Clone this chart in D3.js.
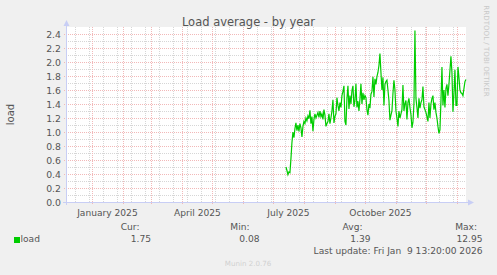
<!DOCTYPE html>
<html><head><meta charset="utf-8">
<script src="https://cdn.jsdelivr.net/npm/d3@7/dist/d3.min.js"></script>
<style>
html,body{margin:0;padding:0;background:#f0f0f0;}
svg{display:block;font-family:"DejaVu Sans",sans-serif;}
</style></head><body>
<script>
// ---- data ----
const title = "Load average - by year";
const yLabel = "load";
const yTicks = [0.0,0.2,0.4,0.6,0.8,1.0,1.2,1.4,1.6,1.8,2.0,2.2,2.4];
const xLabels = ["January 2025","April 2025","July 2025","October 2025"];
const xLabelMonths = ["2025-01-01","2025-04-01","2025-07-01","2025-10-01"];
const seriesName = "load";
const seriesStart = "2025-07-13T12:00:00Z"; // one value per day
const loadValues = [
0.50,0.45,0.39,0.43,0.42,0.62,0.85,1.00,0.92,1.05,
1.13,1.02,1.10,1.01,1.12,1.06,0.93,1.08,1.15,1.12,
1.20,1.16,1.23,1.19,1.31,1.12,1.22,1.01,1.18,1.26,
1.20,1.24,1.28,1.21,1.30,1.22,1.26,1.18,1.32,1.24,
1.08,1.12,1.15,1.26,1.12,1.20,1.30,1.46,1.13,1.22,
1.26,1.49,1.38,1.30,1.42,1.35,1.52,1.58,1.66,1.15,
1.10,1.48,1.66,1.33,1.52,1.40,1.59,1.66,1.36,1.45,
1.69,1.35,1.44,1.30,1.47,1.69,1.40,1.56,1.46,1.52,
1.49,1.32,1.24,1.40,1.34,1.54,1.58,1.79,1.50,1.76,
1.68,1.79,1.85,1.95,2.12,1.85,1.60,1.78,1.38,1.68,
1.72,1.74,1.60,1.45,1.17,1.24,1.30,1.55,1.74,1.60,
1.30,1.20,1.08,1.30,1.20,1.26,1.32,1.67,1.30,1.40,
1.45,1.18,1.42,1.48,1.35,1.25,1.06,1.14,1.40,2.45,
1.48,1.35,1.20,1.48,1.34,1.42,1.46,1.65,1.36,1.32,
1.28,1.22,1.15,1.42,1.20,1.40,1.48,1.52,1.32,1.42,
1.28,1.20,1.08,0.98,1.03,1.44,1.93,1.38,1.60,1.35,
1.62,1.68,1.52,1.68,1.88,2.08,1.85,1.29,1.55,1.89,
1.38,1.38,1.93,1.78,1.60,1.56,1.55,1.52,1.62,1.72,
1.75];
const legendHeads = ["Cur:","Min:","Avg:","Max:"];
const legendVals = ["1.75","0.08","1.39","12.95"];
const lastUpdate = "Last update: Fri Jan  9 13:20:00 2026";
const footer = "Munin 2.0.76";
const watermark = "RRDTOOL / TOBI OETIKER";
const rangeStart = "2024-12-05T13:20:00Z";
const rangeEnd = "2026-01-09T13:20:00Z";

// ---- drawing ----
const W=497,H=275;
const L=66,R=466,T=27,B=202;
const svg=d3.select("body").append("svg").attr("width",W).attr("height",H);
svg.append("rect").attr("width",W).attr("height",H).attr("fill","#f0f0f0");
const x=d3.scaleUtc().domain([new Date(rangeStart),new Date(rangeEnd)]).range([L,R]);
const y=d3.scaleLinear().domain([0,2.5]).range([B,T]);
svg.append("rect").attr("x",L).attr("y",T).attr("width",R-L).attr("height",B-T).attr("fill","#fff");

const g=svg.append("g");
const minC="#d6d6d6", majC="#f2b8b8";
// minor horizontal
const minorY=d3.range(1,25,2).map(i=>i/10);
g.selectAll("line.hmin").data(minorY).enter().append("line")
 .attr("x1",L).attr("x2",R).attr("y1",d=>Math.round(y(d))+0.5).attr("y2",d=>Math.round(y(d))+0.5)
 .attr("stroke",minC).attr("stroke-dasharray","1,1");
// minor vertical: every 2 weeks on Sundays
const mx=[];let d0=new Date("2024-12-15T00:00:00Z");
while(d0<new Date(rangeEnd)){mx.push(new Date(d0));d0=d3.utcDay.offset(d0,14);}
g.selectAll("line.vmin").data(mx).enter().append("line")
 .attr("y1",T).attr("y2",B).attr("x1",d=>Math.round(x(d))+0.5).attr("x2",d=>Math.round(x(d))+0.5)
 .attr("stroke",minC).attr("stroke-dasharray","1,1");
// major horizontal
g.selectAll("line.hmaj").data(yTicks.slice(1)).enter().append("line")
 .attr("x1",L-2).attr("x2",R).attr("y1",d=>Math.round(y(d))+0.5).attr("y2",d=>Math.round(y(d))+0.5)
 .attr("stroke",majC).attr("stroke-dasharray","1,1");
// major vertical: month starts
const months=d3.utcMonth.range(new Date(rangeStart),new Date(rangeEnd));
g.selectAll("line.vmaj").data(months).enter().append("line")
 .attr("y1",T).attr("y2",B+3).attr("x1",d=>Math.round(x(d))+0.5).attr("x2",d=>Math.round(x(d))+0.5)
 .attr("stroke",majC).attr("stroke-dasharray","1,1");

// axes
const axc="#c8cef5";
svg.append("line").attr("x1",L+0.5).attr("x2",L+0.5).attr("y1",T-4).attr("y2",B+3).attr("stroke",axc);
svg.append("line").attr("x1",L-3).attr("x2",R+3).attr("y1",B+0.5).attr("y2",B+0.5).attr("stroke",axc);
svg.append("path").attr("d",`M${L-2.5},${T-1} L${L+0.5},${T-7} L${L+3.5},${T-1} Z`).attr("fill",axc);
svg.append("path").attr("d",`M${R+2},${B-2.5} L${R+8},${B+0.5} L${R+2},${B+3.5} Z`).attr("fill",axc);

// series
const data=loadValues.map((v,i)=>({t:d3.utcDay.offset(new Date(seriesStart),i),v}));
svg.append("path").datum(data)
 .attr("d",d3.line().x(d=>x(d.t)).y(d=>y(d.v)))
 .attr("fill","none").attr("stroke","#00cc00").attr("stroke-width",1.2);

// text
const fc="#555";
svg.append("text").attr("x",248.5).attr("y",26).attr("text-anchor","middle")
 .attr("font-size",11.5).attr("fill",fc).text(title);
svg.selectAll("text.yt").data(yTicks).enter().append("text")
 .attr("x",61).attr("y",d=>y(d)+3.5).attr("text-anchor","end").attr("font-size",9.3).attr("fill",fc)
 .text(d=>d.toFixed(1));
svg.selectAll("text.xt").data(xLabels).enter().append("text")
 .attr("x",(d,i)=>x(d3.utcDay.offset(new Date(xLabelMonths[i]+"T00:00:00Z"),15)))
 .attr("y",216).attr("text-anchor","middle").attr("font-size",9.1).attr("fill",fc).text(d=>d);
svg.append("text").attr("transform",`translate(14,${(T+B)/2}) rotate(-90)`).attr("text-anchor","middle")
 .attr("font-size",10).attr("fill",fc).text(yLabel);
svg.append("text").attr("transform",`translate(484,51) rotate(90)`).attr("text-anchor","middle")
 .attr("font-size",7.1).attr("fill","#c8c8c8").text(watermark);

// legend
svg.append("rect").attr("x",14).attr("y",237).attr("width",6).attr("height",6).attr("fill","#00cc00");
svg.append("text").attr("x",20.5).attr("y",242).attr("font-size",9.1).attr("fill",fc).text(seriesName);
const headRight=[139.5,249.5,362.5,477];
const valRight=[151,259.5,370.5,482.5];
svg.selectAll("text.lh").data(legendHeads).enter().append("text")
 .attr("x",(d,i)=>headRight[i]).attr("y",230).attr("text-anchor","end").attr("font-size",9.1).attr("fill",fc).text(d=>d);
svg.selectAll("text.lv").data(legendVals).enter().append("text")
 .attr("x",(d,i)=>valRight[i]).attr("y",242).attr("text-anchor","end").attr("font-size",9.1).attr("fill",fc).text(d=>d);
svg.append("text").attr("x",482.5).attr("y",254).attr("text-anchor","end").attr("font-size",9.1)
 .attr("fill",fc).attr("xml:space","preserve").style("white-space","pre").text(lastUpdate);
svg.append("text").attr("x",248).attr("y",265.5).attr("text-anchor","middle").attr("font-size",7.1)
 .attr("fill","#d0d0d0").text(footer);
</script>
</body></html>
